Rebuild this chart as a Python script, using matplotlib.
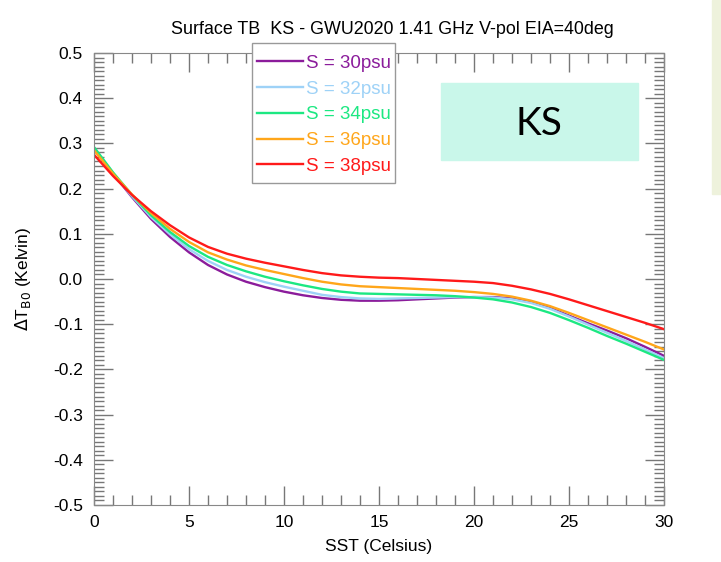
#!/usr/bin/env python3

import matplotlib
matplotlib.use('Agg')
import matplotlib.pyplot as plt
from matplotlib.ticker import MultipleLocator, FuncFormatter
from matplotlib.patches import Rectangle

sst = list(range(0, 31))

dtb_30 = [0.288, 0.233, 0.181, 0.133, 0.093, 0.059, 0.031, 0.010, -0.006, -0.018,
          -0.028, -0.036, -0.042, -0.046, -0.048, -0.048, -0.047, -0.045, -0.043, -0.041,
          -0.040, -0.040, -0.043, -0.051, -0.064, -0.081, -0.098, -0.114, -0.131, -0.150,
          -0.170]
dtb_32 = [0.290, 0.234, 0.183, 0.137, 0.099, 0.066, 0.040, 0.020, 0.005, -0.007,
          -0.017, -0.026, -0.035, -0.040, -0.043, -0.044, -0.043, -0.042, -0.041, -0.040,
          -0.040, -0.041, -0.045, -0.053, -0.066, -0.083, -0.101, -0.119, -0.137, -0.156,
          -0.175]
dtb_34 = [0.292, 0.236, 0.186, 0.141, 0.104, 0.073, 0.049, 0.031, 0.017, 0.005,
          -0.005, -0.014, -0.022, -0.028, -0.032, -0.033, -0.034, -0.035, -0.036, -0.038,
          -0.041, -0.045, -0.052, -0.062, -0.075, -0.091, -0.108, -0.126, -0.143, -0.161,
          -0.179]
dtb_36 = [0.285, 0.233, 0.187, 0.146, 0.111, 0.082, 0.059, 0.043, 0.030, 0.020,
          0.011, 0.002, -0.006, -0.012, -0.016, -0.018, -0.020, -0.022, -0.024, -0.026,
          -0.029, -0.033, -0.039, -0.048, -0.060, -0.075, -0.091, -0.107, -0.123, -0.139,
          -0.156]
dtb_38 = [0.275, 0.228, 0.186, 0.150, 0.119, 0.092, 0.071, 0.056, 0.045, 0.036,
          0.028, 0.020, 0.013, 0.008, 0.005, 0.003, 0.002, 0.000, -0.002, -0.004,
          -0.006, -0.009, -0.015, -0.023, -0.033, -0.045, -0.058, -0.071, -0.084, -0.097,
          -0.111]

series = [dtb_30, dtb_32, dtb_34, dtb_36, dtb_38]
names = ['S = 30psu', 'S = 32psu', 'S = 34psu', 'S = 36psu', 'S = 38psu']
colors = ['#8B1C9B', '#9ED2F7', '#1CE882', '#FFA61A', '#FF1A1A']

plt.rcParams['font.family'] = ['Liberation Sans', 'DejaVu Sans']

W, H = 721, 562
fig = plt.figure(figsize=(W / 100, H / 100), dpi=100)
ax = fig.add_axes([94 / W, 1 - 505 / H, (664 - 94) / W, (505 - 53) / H])

for i in range(len(series)):
    ax.plot(sst, series[i], color=colors[i], lw=1.7, label=names[i])

ax.set_xlim(0, 30)
ax.set_ylim(-0.5, 0.5)
ax.xaxis.set_major_locator(MultipleLocator(5))
ax.xaxis.set_minor_locator(MultipleLocator(1))
ax.yaxis.set_major_locator(MultipleLocator(0.1))
ax.yaxis.set_minor_locator(MultipleLocator(0.01))
ax.yaxis.set_major_formatter(FuncFormatter(lambda v, p: '%.1f' % (round(v, 2) + 0.0)))
ax.xaxis.set_major_formatter(FuncFormatter(lambda v, p: '%d' % round(v)))
ax.tick_params(which='both', direction='in', top=True, right=True,
               color='#777777', labelsize=12.5)
ax.tick_params(which='major', length=14, width=1)
ax.tick_params(which='minor', length=7, width=1)
ax.tick_params(axis='x', pad=7)
ax.tick_params(axis='y', pad=8)
for s in ax.spines.values():
    s.set_color('#888888')

ax.set_xlabel('SST (Celsius)', fontsize=12.5, labelpad=7)
ax.set_ylabel(r'$\Delta$T$_{\rm B0}$ (Kelvin)', fontsize=12.5, labelpad=14)

fig.text(392 / W, 1 - 30 / H, 'Surface TB  KS - GWU2020 1.41 GHz V-pol EIA=40deg',
         ha='center', va='center', fontsize=12.9)

# legend frame drawn by hand (IDL style box, sits over the top axis)
ax.add_artist(Rectangle((252 / W, 1 - 183 / H), 143 / W, 140 / H,
                        transform=fig.transFigure, facecolor='white',
                        edgecolor='#999999', lw=1, zorder=4, clip_on=False))
leg = ax.legend(loc='upper left', bbox_to_anchor=(253 / W, 1 - 51 / H),
                bbox_transform=fig.transFigure, fontsize=13.5, labelcolor='linecolor',
                handlelength=2.45, handletextpad=0.2, labelspacing=0.46,
                borderpad=0.2, borderaxespad=0, frameon=False)
leg.set_zorder(5)

# KS label box and the pale box cut off at the right edge
fig.patches.append(Rectangle((441 / W, 1 - 160 / H), 197 / W, 77 / H,
                             transform=fig.transFigure, color='#C9F7EA', zorder=0))
fig.text(539 / W, 1 - 124 / H, 'KS', ha='center', va='center', fontsize=28,
         family='Lato')
fig.patches.append(Rectangle((712 / W, 1 - 194 / H), 9 / W, 194 / H,
                             transform=fig.transFigure, color='#EEF2DC', zorder=0))

fig.savefig('out.png', dpi=100)
